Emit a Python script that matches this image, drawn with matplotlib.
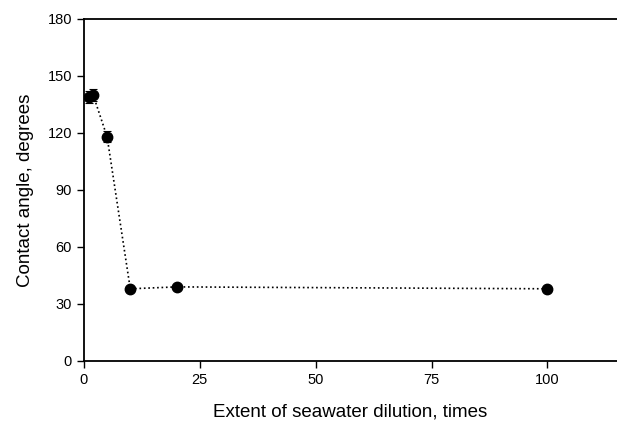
import matplotlib
matplotlib.use("Agg")
import matplotlib.pyplot as plt

dilution = [1, 2, 5, 10, 20, 100]
angle = [139, 140, 118, 38, 39, 38]
err = [3, 3, 3, 1, 1, 1]
xticks = [0, 25, 50, 75, 100]
yticks = [0, 30, 60, 90, 120, 150, 180]

plt.rcParams['font.family'] = ['Liberation Sans', 'DejaVu Sans']

fig = plt.figure(figsize=(6.17, 4.26), dpi=100)
ax = fig.add_axes([0.136, 0.1526, 0.864, 0.8028])
ax.errorbar(dilution, angle, yerr=err, fmt='o', color='black', markersize=7.5,
            ecolor='black', elinewidth=0.8, capsize=3, capthick=0.8, zorder=3)
ax.plot(dilution, angle, linestyle=':', color='black', linewidth=1.2, zorder=2)

ax.set_xlim(0, 115)
ax.set_ylim(0, 180)
ax.set_xticks(xticks)
ax.set_yticks(yticks)
ax.spines['right'].set_visible(False)
for s in ['left', 'bottom', 'top']:
    ax.spines[s].set_linewidth(1.3)
ax.tick_params(direction='out', length=5, width=1, labelsize=10.5)
ax.set_xlabel('Extent of seawater dilution, times', fontsize=13.5, labelpad=12)
ax.set_ylabel('Contact angle, degrees', fontsize=13.5, labelpad=10)

fig.savefig('out.png', dpi=100)
